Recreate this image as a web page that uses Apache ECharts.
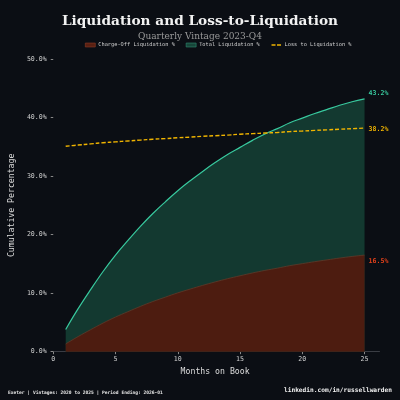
<!DOCTYPE html>
<html>
<head>
<meta charset="utf-8">
<script src="https://cdn.jsdelivr.net/npm/echarts@6/dist/echarts.min.js"></script>
<style>
html,body{margin:0;padding:0;background:#0b0e14;}
#c{width:400px;height:400px;}
</style>
</head>
<body>
<div id="c"></div>
<script>
const months = [1,2,3,4,5,6,7,8,9,10,11,12,13,14,15,16,17,18,19,20,21,22,23,24,25];
const totalLiq = [3.8,7.35,10.6,13.7,16.5,19.0,21.4,23.6,25.6,27.5,29.2,30.8,32.3,33.7,34.9,36.1,37.2,38.1,39.1,39.9,40.7,41.4,42.1,42.7,43.2];
const chargeOffLiq = [1.33,2.59,3.76,4.89,5.92,6.84,7.74,8.57,9.32,10.05,10.70,11.33,11.92,12.47,12.97,13.45,13.89,14.27,14.70,15.04,15.38,15.69,16.00,16.27,16.50];
const lossToLiq = [35.1,35.3,35.5,35.7,35.85,36.0,36.15,36.3,36.4,36.55,36.65,36.8,36.9,37.0,37.15,37.25,37.35,37.45,37.6,37.7,37.8,37.9,38.0,38.1,38.2];
const xTicks = [0,5,10,15,20,25];

const mono = 'DejaVu Sans Mono';
const pair = arr => months.map((m,i)=>[m,arr[i]]);
const endFmt = p => p.value[1].toFixed(1) + '%';

const chart = echarts.init(document.getElementById('c'), null, {renderer:'canvas'});
chart.setOption({
  backgroundColor:'#0b0e14',
  animation:false,
  title:[
    {text:'Liquidation and Loss-to-Liquidation', left:'center', top:9,
     textStyle:{fontFamily:'DejaVu Serif', fontWeight:'bold', fontSize:13.7, color:'#f2f2f2'}},
    {text:'Quarterly Vintage 2023-Q4', left:'center', top:27.5,
     textStyle:{fontFamily:'DejaVu Serif', fontWeight:'normal', fontSize:9, color:'#9a9a9a'}}
  ],
  legend:{
    top:37.5, left:80, itemWidth:10, itemHeight:4, itemGap:11,
    textStyle:{fontFamily:mono, fontSize:5.3, color:'#d0d0d0', padding:[0,0,0,-2]},
    data:[
      {name:'Charge-Off Liquidation %', icon:'rect', itemStyle:{color:'#5a2012', borderColor:'#8a3a26', borderWidth:0.6}},
      {name:'Total Liquidation %', icon:'rect', itemStyle:{color:'#17463a', borderColor:'#2f8a70', borderWidth:0.6}},
      {name:'Loss to Liquidation %', itemStyle:{opacity:0}, lineStyle:{type:[4,1.5], width:1.6, color:'#f0b400'}}
    ]
  },
  graphic:[
    {type:'text', left:8, top:390, style:{text:'Exeter | Vintages: 2020 to 2025 | Period Ending: 2026-01', fontFamily:mono, fontWeight:'bold', fontSize:4.6, fill:'#e6e6e6'}},
    {type:'text', right:8, top:387.5, style:{text:'linkedin.com/in/russellwarden', fontFamily:mono, fontWeight:'bold', fontSize:6.2, fill:'#f0f0f0'}}
  ],
  grid:{left:48.2, right:20.5, top:59, bottom:48.3},
  xAxis:{
    type:'value', min:-0.2, max:26.2,
    name:'Months on Book', nameLocation:'middle', nameGap:15,
    nameTextStyle:{fontFamily:mono, fontSize:8.2, color:'#dddddd'},
    axisLine:{show:true, lineStyle:{color:'#3a3d44', width:1}},
    axisTick:{show:true, customValues:xTicks, length:2.5, lineStyle:{color:'#888'}},
    axisLabel:{customValues:xTicks, fontFamily:mono, fontSize:6.6, color:'#d0d0d0', margin:4},
    splitLine:{show:false}
  },
  yAxis:{
    type:'value', min:0, max:50, interval:10,
    name:'Cumulative Percentage', nameLocation:'middle', nameGap:31, nameRotate:90,
    nameTextStyle:{fontFamily:mono, fontSize:8.2, color:'#dddddd'},
    axisLine:{show:false},
    axisTick:{show:true, length:2.5, lineStyle:{color:'#888'}},
    axisLabel:{fontFamily:mono, fontSize:6.6, color:'#d0d0d0', margin:4, formatter:v=>v.toFixed(1)+'%'},
    splitLine:{show:false}
  },
  series:[
    {
      name:'Total Liquidation %', type:'line', data:pair(totalLiq), showSymbol:false, symbol:'none',
      z:2, smooth:0.4,
      lineStyle:{color:'#38c99e', width:1.2},
      itemStyle:{color:'#17463a'},
      areaStyle:{color:'#133930', opacity:1, origin:'start'},
      endLabel:{show:true, formatter:endFmt, color:'#38c99e', fontFamily:mono, fontWeight:'bold', fontSize:6.6, distance:4, offset:[0,-6]}
    },
    {
      name:'Charge-Off Liquidation %', type:'line', data:pair(chargeOffLiq), showSymbol:false, symbol:'none',
      z:3, smooth:0.4,
      lineStyle:{color:'#5e3a2a', width:0.8},
      itemStyle:{color:'#5a2012'},
      areaStyle:{color:'#4d1c10', opacity:1, origin:'start'},
      endLabel:{show:true, formatter:endFmt, color:'#e0401a', fontFamily:mono, fontWeight:'bold', fontSize:6.6, distance:4, offset:[0,6]}
    },
    {
      name:'Loss to Liquidation %', type:'line', data:pair(lossToLiq), showSymbol:false, symbol:'none',
      z:4, smooth:0.4,
      lineStyle:{color:'#f0b400', width:1.4, type:[4,2]},
      itemStyle:{color:'#f0b400'},
      endLabel:{show:true, formatter:endFmt, color:'#f0b400', fontFamily:mono, fontWeight:'bold', fontSize:6.6, distance:4, offset:[0,1]}
    }
  ]
});
</script>
</body>
</html>
